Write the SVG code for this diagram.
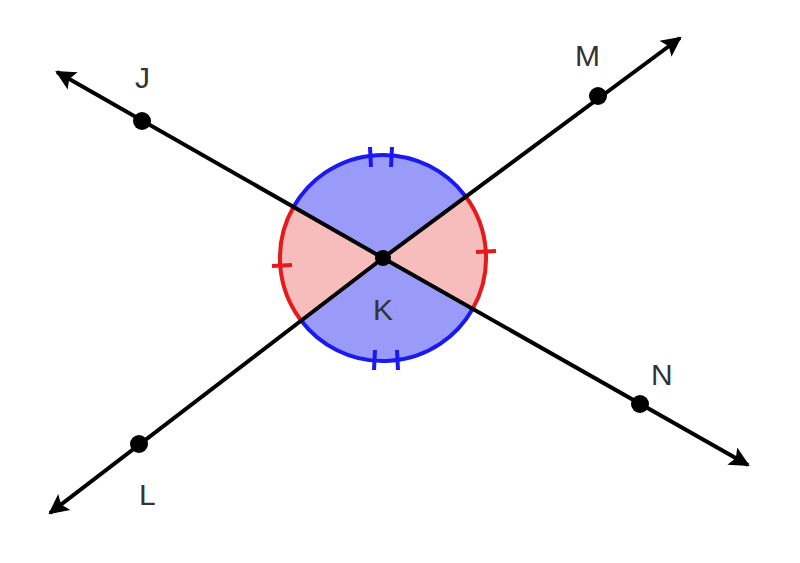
<svg xmlns="http://www.w3.org/2000/svg" width="800" height="563" viewBox="0 0 800 563">
<style>
.ln{stroke:#000;stroke-width:4;fill:none}
.pt{fill:#000}
.lbl{font-family:"Liberation Sans",Arial,sans-serif;font-size:30px;fill:#333}
</style>
<defs>
<marker id="ah" viewBox="0 0 10 10" refX="9" refY="5" markerWidth="10" markerHeight="5" markerUnits="strokeWidth" orient="auto"><path d="M0,0 L10,5 L0,10 L2,5 z" fill="#000"/></marker>
</defs>
<rect width="800" height="563" fill="#fff"/>
<g id="angles">
<path d="M383,258 L293.4,207.1 A103,103 0 0 1 465.3,196 Z" fill="#9a9af8" stroke="none"/>
<path d="M383,258 L472.6,308.9 A103,103 0 0 1 300.7,320 Z" fill="#9a9af8" stroke="none"/>
<path d="M383,258 L465.3,196 A103,103 0 0 1 472.6,308.9 Z" fill="#f7bcbc" stroke="none"/>
<path d="M383,258 L300.7,320 A103,103 0 0 1 293.4,207.1 Z" fill="#f7bcbc" stroke="none"/>
<path d="M293.4,207.1 A103,103 0 0 1 465.3,196" stroke="#1a1af0" stroke-width="4" fill="none"/>
<path d="M472.6,308.9 A103,103 0 0 1 300.7,320" stroke="#1a1af0" stroke-width="4" fill="none"/>
<path d="M465.3,196 A103,103 0 0 1 472.6,308.9" stroke="#e61a1a" stroke-width="4" fill="none"/>
<path d="M300.7,320 A103,103 0 0 1 293.4,207.1" stroke="#e61a1a" stroke-width="4" fill="none"/>
<g stroke="#1a1af0" stroke-width="4">
<line x1="370" y1="147" x2="371" y2="167"/><line x1="392" y1="147" x2="391" y2="167"/>
<line x1="375" y1="350" x2="374" y2="370"/><line x1="397" y1="350" x2="398" y2="370"/>
</g>
<g stroke="#e61a1a" stroke-width="4">
<line x1="272" y1="266" x2="292" y2="265"/><line x1="476" y1="252" x2="496" y2="251"/>
</g>
</g>
<g id="connectors">
<line class="ln" x1="383" y1="258" x2="57" y2="72" marker-end="url(#ah)"/>
<line class="ln" x1="383" y1="258" x2="748" y2="465" marker-end="url(#ah)"/>
<line class="ln" x1="383" y1="258" x2="680" y2="38" marker-end="url(#ah)"/>
<line class="ln" x1="383" y1="258" x2="50" y2="513" marker-end="url(#ah)"/>
</g>
<g id="J"><circle class="pt" cx="142" cy="121" r="9"/><text class="lbl" x="135" y="88">J</text></g>
<g id="M"><circle class="pt" cx="598" cy="96" r="9"/><text class="lbl" x="575" y="66">M</text></g>
<g id="N"><circle class="pt" cx="640" cy="404" r="9"/><text class="lbl" x="651" y="385">N</text></g>
<g id="L"><circle class="pt" cx="139" cy="444" r="9"/><text class="lbl" x="139" y="505">L</text></g>
<g id="K"><circle class="pt" cx="383" cy="258" r="8"/><text class="lbl" x="373" y="320" fill="#555">K</text></g>
</svg>
